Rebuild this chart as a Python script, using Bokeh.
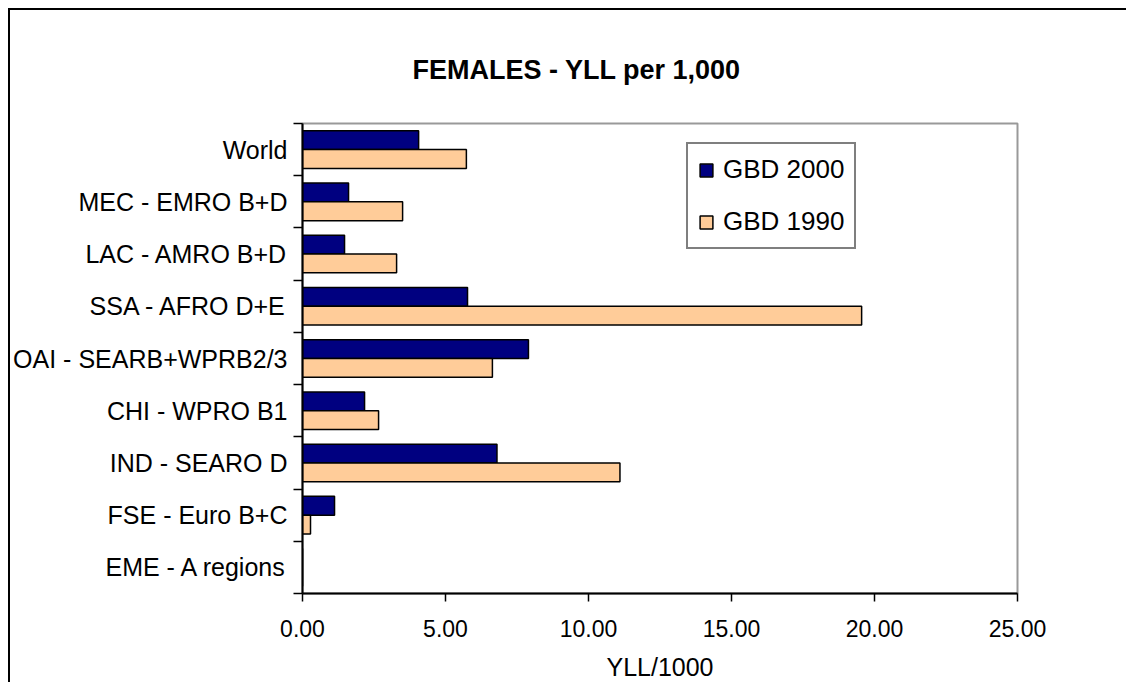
from bokeh.plotting import figure
from bokeh.models import (Range1d, FixedTicker, NumeralTickFormatter, Title, Legend,
                          LegendItem, ColumnDataSource)
from bokeh.embed import file_html
from bokeh.resources import INLINE

regions = ["World", "MEC - EMRO B+D", "LAC - AMRO B+D", "SSA - AFRO D+E",
           "OAI - SEARB+WPRB2/3", "CHI - WPRO B1", "IND - SEARO D",
           "FSE - Euro B+C", "EME - A regions"]
gbd2000 = [4.06, 1.61, 1.47, 5.77, 7.90, 2.17, 6.80, 1.12, 0.0]
gbd1990 = [5.73, 3.50, 3.29, 19.55, 6.64, 2.66, 11.10, 0.28, 0.0]
x_ticks = [0, 5, 10, 15, 20, 25]

n = len(regions)
centers = [n - 0.5 - i for i in range(n)]
half = 0.36

src00 = ColumnDataSource(dict(y=[c + half / 2 for c in centers], right=gbd2000))
src90 = ColumnDataSource(dict(y=[c - half / 2 for c in centers], right=gbd1990))

FONT = "Liberation Sans"

p = figure(width=1118, height=674, output_backend="svg", toolbar_location=None,
           x_range=Range1d(0, 25), y_range=Range1d(0, n),
           min_border_left=292, min_border_right=111, min_border_top=113,
           min_border_bottom=91)
p.styles = {"margin-left": "8px", "margin-top": "8px",
            "border-left": "2px solid black", "border-top": "2px solid black"}
p.background_fill_color = "white"
p.border_fill_color = "white"
p.outline_line_color = "#999999"
p.outline_line_width = 2
p.xgrid.visible = False
p.ygrid.visible = False

r00 = p.hbar(y="y", right="right", left=0, height=half, source=src00,
             fill_color="#000080", line_color="black", line_width=1.5)
r90 = p.hbar(y="y", right="right", left=0, height=half, source=src90,
             fill_color="#FFCC99", line_color="black", line_width=1.5)

# x axis
xa = p.xaxis[0]
xa.ticker = FixedTicker(ticks=x_ticks, minor_ticks=[])
xa.formatter = NumeralTickFormatter(format="0.00")
xa.axis_line_width = 2
xa.axis_line_color = "black"
xa.major_tick_line_width = 1.5
xa.major_tick_out = 8
xa.major_tick_in = 0
xa.minor_tick_line_color = None
xa.major_label_text_font = FONT
xa.major_label_text_font_size = "23px"
xa.major_label_text_color = "black"
xa.major_label_standoff = 18
xa.axis_label = "YLL/1000"
xa.axis_label_text_font = FONT
xa.axis_label_text_font_size = "25px"
xa.axis_label_text_font_style = "normal"
xa.axis_label_text_color = "black"
xa.axis_label_standoff = 13

# y axis
ya = p.yaxis[0]
ya.ticker = FixedTicker(ticks=centers, minor_ticks=list(range(n + 1)))
ya.major_label_overrides = {c: r for c, r in zip(centers, regions)}
ya.axis_line_width = 2
ya.axis_line_color = "black"
ya.major_tick_line_color = None
ya.major_tick_out = 0
ya.major_tick_in = 0
ya.minor_tick_line_color = "black"
ya.minor_tick_line_width = 1.5
ya.minor_tick_out = 9
ya.minor_tick_in = 0
ya.major_label_text_font = FONT
ya.major_label_text_font_size = "25px"
ya.major_label_text_color = "black"
ya.major_label_standoff = 6

# title lifted away from the frame with a large standoff
title = Title(text="FEMALES - YLL per 1,000", align="left", offset=110,
              standoff=78, text_font=FONT, text_font_size="27px",
              text_font_style="bold", text_color="black")
p.add_layout(title, "above")

legend = Legend(items=[LegendItem(label="GBD 2000", renderers=[r00]),
                       LegendItem(label="GBD 1990", renderers=[r90])],
                location=(384, 344), orientation="vertical",
                glyph_width=16, glyph_height=16, label_standoff=9,
                label_text_font=FONT, label_text_font_size="26px",
                label_text_color="black", padding=10, margin=0, spacing=21,
                border_line_color="black", border_line_width=2,
                background_fill_color="white", background_fill_alpha=1.0)
p.add_layout(legend, "center")

open("out.html", "w").write(file_html(p, INLINE))
